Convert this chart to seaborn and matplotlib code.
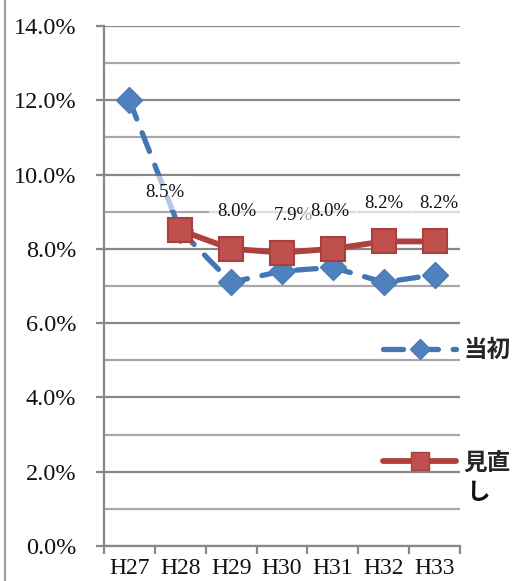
import numpy as np
import pandas as pd
import seaborn as sns
import matplotlib
matplotlib.use("Agg")
import matplotlib.pyplot as plt
from matplotlib.lines import Line2D
from matplotlib.ticker import FuncFormatter, MultipleLocator, FixedLocator

# ---- data ----
categories = ["H27", "H28", "H29", "H30", "H31", "H32", "H33"]
initial_values = [12.0, 8.5, 7.1, 7.4, 7.5, 7.1, 7.3]
revised_values = [np.nan, 8.5, 8.0, 7.9, 8.0, 8.2, 8.2]
series_initial = "当初"
series_revised = "見直し"

sns.set_theme(style="white")
plt.rcParams['font.family'] = ['Liberation Serif', 'Noto Sans CJK JP', 'DejaVu Sans']

W, H = 518, 581
fig = plt.figure(figsize=(W / 100, H / 100), dpi=100)
ax = fig.add_axes([104 / W, 1 - 546 / H, (460 - 104) / W, (546 - 26) / H])

df = pd.DataFrame({"pos": np.arange(len(categories)), "cat": categories,
                   "initial": initial_values, "revised": revised_values})

blue_face = '#4F81BD'
blue_line = '#4476B4'
red_face = '#C0504D'
red_line = '#B0403D'
red_edge = '#A8403D'

major_grid = '#888888'
minor_grid = '#A8A8A8'

# grid lines
ax.set_ylim(0, 14)
ax.set_xlim(-0.5, len(categories) - 0.5)
ax.yaxis.set_major_locator(MultipleLocator(2))
ax.yaxis.set_minor_locator(MultipleLocator(1))
ax.yaxis.set_major_formatter(FuncFormatter(lambda v, p: f"{v:.1f}%"))
ax.grid(axis='y', which='major', color=major_grid, lw=1.6, zorder=0)
ax.grid(axis='y', which='minor', color=minor_grid, lw=1.6, zorder=0)
ax.set_axisbelow(True)

# series
sns.lineplot(data=df, x="pos", y="initial", ax=ax, color=blue_line, lw=3.8,
             linestyle=(0, (3.8, 2.8)), dash_capstyle='round',
             marker='D', markersize=13, markerfacecolor=blue_face,
             markeredgecolor='#4A7BB7', markeredgewidth=1, zorder=3)
dfr = df.dropna(subset=["revised"])
sns.lineplot(data=dfr, x="pos", y="revised", ax=ax, color=red_line, lw=4.2,
             marker='s', markersize=17, markerfacecolor=red_face,
             markeredgecolor=red_edge, markeredgewidth=1.5, zorder=4)

# data labels
label_dx = [-11, 4, 8, -2, 0, 3]
for (x, v), dx in zip(zip(dfr["pos"], dfr["revised"]), label_dx):
    ax.annotate(f"{v:.1f}%", (x, v), xytext=(dx, 27), textcoords='offset points',
                ha='center', va='center', fontsize=13.5, color='#111111',
                family=['Liberation Serif'],
                bbox=dict(boxstyle='square,pad=0.45', fc='white', ec='none', alpha=0.6),
                zorder=5)

# axes styling
for s in ['top', 'right']:
    ax.spines[s].set_visible(False)
for s in ['left', 'bottom']:
    ax.spines[s].set_color(major_grid)
    ax.spines[s].set_linewidth(1.6)

ax.set_xticks(df["pos"])
ax.set_xticklabels(categories)
ax.xaxis.set_minor_locator(FixedLocator(np.arange(-0.5, len(categories), 1.0)))
ax.tick_params(axis='x', which='major', length=0, pad=9, labelsize=17, labelcolor='#111111')
ax.tick_params(axis='x', which='minor', length=6, width=1.6, color=major_grid, direction='out', bottom=True)
ax.tick_params(axis='y', which='major', length=6, width=1.6, color=major_grid, direction='out',
               left=True, pad=14, labelsize=17.5, labelcolor='#111111')
ax.tick_params(axis='y', which='minor', length=0)
ax.set_xlabel("")
ax.set_ylabel("")

# legend
handles = [
    Line2D([], [], color=blue_line, lw=3.8, linestyle=(0, (3.8, 2.8)), dash_capstyle='round',
           marker='D', markersize=10, markerfacecolor=blue_face, markeredgecolor='#4A7BB7'),
    Line2D([], [], color=red_line, lw=4.2, marker='s', markersize=13,
           markerfacecolor=red_face, markeredgecolor=red_edge),
]
leg = fig.legend(handles, [series_initial, series_revised[:2]], loc='upper left',
                 bbox_to_anchor=(383 / W, 1 - 338 / H), frameon=False,
                 borderpad=0, borderaxespad=0, handlelength=3.1, handletextpad=0.3,
                 labelspacing=3.75, prop=dict(family='Noto Sans CJK JP', size=17, weight='bold'))
fig.text(466 / W, 1 - 492 / H, series_revised[2:], ha='left', va='center',
         family='Noto Sans CJK JP', fontsize=17, fontweight='bold', color='#111111')

# left border line of chart frame
fig.add_artist(Line2D([5 / W, 5 / W], [0, 1], transform=fig.transFigure, color='#A0A0A0', lw=1.6))

fig.savefig("out.png", dpi=100)
